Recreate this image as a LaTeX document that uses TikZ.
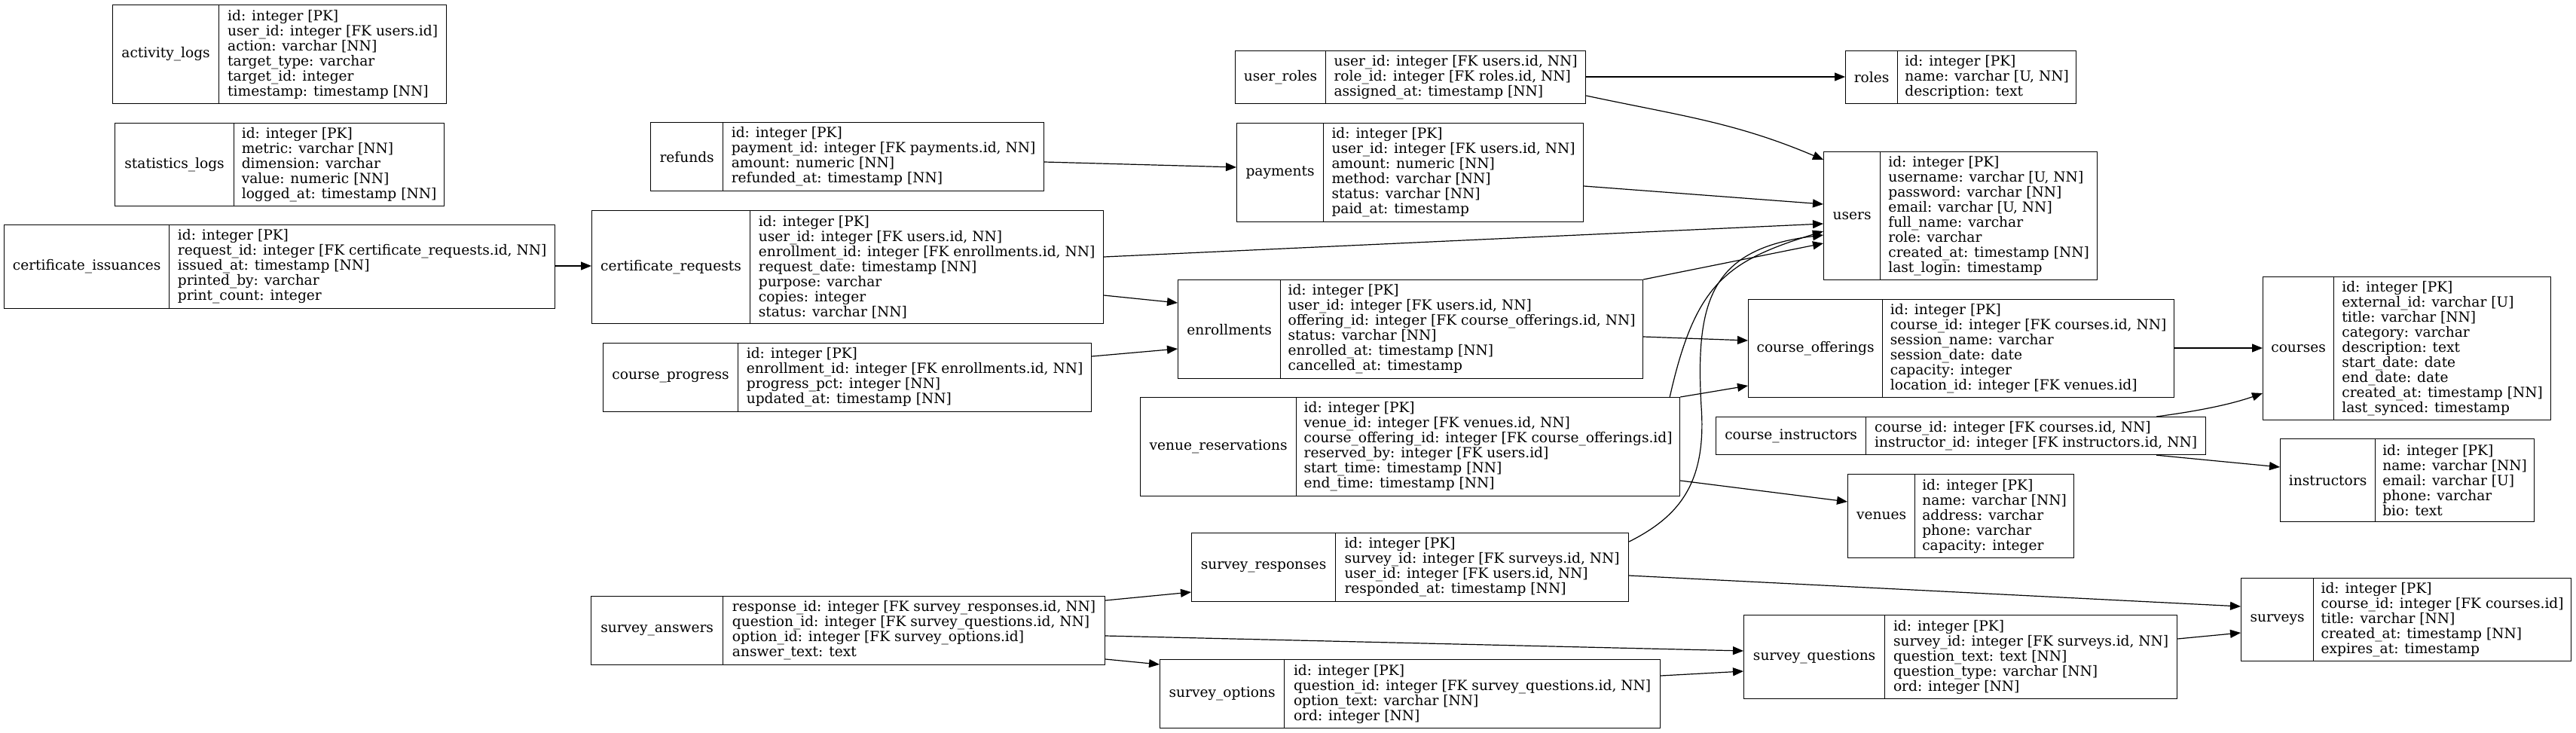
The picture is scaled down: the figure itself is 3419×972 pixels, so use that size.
\documentclass[tikz,border=0pt]{standalone}
\usepackage{fontspec}
\setmainfont{DejaVu Serif}
\usetikzlibrary{arrows.meta}

\begin{document}
\begin{tikzpicture}[x=1pt,y=-1pt,
	every node/.style={font=\fontsize{18.6}{20}\selectfont},
	tname/.style={draw, line width=1.2pt, anchor=north west, inner sep=0pt},
	tcols/.style={draw, line width=1.2pt, anchor=north west, inner sep=0pt, align=left},
	fk/.style={line width=1.2pt, -{Triangle[length=14pt,width=11pt]}}]
	\useasboundingbox[fill=white] (0,0) rectangle (3419,972);
	% tables, left column
	\node[tname, minimum width=141pt, minimum height=131pt] (activity_logs) at (149,6) {activity\_logs};
	\node[tcols, minimum width=302pt, minimum height=131pt] (activity_logs_f) at (290,6) {id: integer [PK]\\user\_id: integer [FK users.id]\\action: varchar [NN]\\target\_type: varchar\\target\_id: integer\\timestamp: timestamp [NN]};
	\node[tname, minimum width=158pt, minimum height=110pt] (statistics_logs) at (152,163) {statistics\_logs};
	\node[tcols, minimum width=279pt, minimum height=110pt] (statistics_logs_f) at (310,163) {id: integer [PK]\\metric: varchar [NN]\\dimension: varchar\\value: numeric [NN]\\logged\_at: timestamp [NN]};
	\node[tname, minimum width=219pt, minimum height=111pt] (certificate_issuances) at (5,298) {certificate\_issuances};
	\node[tcols, minimum width=512pt, minimum height=111pt] (certificate_issuances_f) at (224,298) {id: integer [PK]\\request\_id: integer [FK certificate\_requests.id, NN]\\issued\_at: timestamp [NN]\\printed\_by: varchar\\print\_count: integer};
	% second column
	\node[tname, minimum width=96pt, minimum height=91pt] (refunds) at (863,162) {refunds};
	\node[tcols, minimum width=426pt, minimum height=91pt] (refunds_f) at (959,162) {id: integer [PK]\\payment\_id: integer [FK payments.id, NN]\\amount: numeric [NN]\\refunded\_at: timestamp [NN]};
	\node[tname, minimum width=210pt, minimum height=150pt] (certificate_requests) at (785,279) {certificate\_requests};
	\node[tcols, minimum width=469pt, minimum height=150pt] (certificate_requests_f) at (995,279) {id: integer [PK]\\user\_id: integer [FK users.id, NN]\\enrollment\_id: integer [FK enrollments.id, NN]\\request\_date: timestamp [NN]\\purpose: varchar\\copies: integer\\status: varchar [NN]};
	\node[tname, minimum width=179pt, minimum height=91pt] (course_progress) at (800,455) {course\_progress};
	\node[tcols, minimum width=469pt, minimum height=91pt] (course_progress_f) at (979,455) {id: integer [PK]\\enrollment\_id: integer [FK enrollments.id, NN]\\progress\_pct: integer [NN]\\updated\_at: timestamp [NN]};
	\node[tname, minimum width=175pt, minimum height=91pt] (survey_answers) at (784,791) {survey\_answers};
	\node[tcols, minimum width=507pt, minimum height=91pt] (survey_answers_f) at (959,791) {response\_id: integer [FK survey\_responses.id, NN]\\question\_id: integer [FK survey\_questions.id, NN]\\option\_id: integer [FK survey\_options.id]\\answer\_text: text};
	% third column
	\node[tname, minimum width=120pt, minimum height=70pt] (user_roles) at (1639,67) {user\_roles};
	\node[tcols, minimum width=345pt, minimum height=70pt] (user_roles_f) at (1759,67) {user\_id: integer [FK users.id, NN]\\role\_id: integer [FK roles.id, NN]\\assigned\_at: timestamp [NN]};
	\node[tname, minimum width=115pt, minimum height=131pt] (payments) at (1641,163) {payments};
	\node[tcols, minimum width=345pt, minimum height=131pt] (payments_f) at (1756,163) {id: integer [PK]\\user\_id: integer [FK users.id, NN]\\amount: numeric [NN]\\method: varchar [NN]\\status: varchar [NN]\\paid\_at: timestamp};
	\node[tname, minimum width=136pt, minimum height=131pt] (enrollments) at (1563,371) {enrollments};
	\node[tcols, minimum width=481pt, minimum height=131pt] (enrollments_f) at (1699,371) {id: integer [PK]\\user\_id: integer [FK users.id, NN]\\offering\_id: integer [FK course\_offerings.id, NN]\\status: varchar [NN]\\enrolled\_at: timestamp [NN]\\cancelled\_at: timestamp};
	\node[tname, minimum width=207pt, minimum height=131pt] (venue_reservations) at (1513,527) {venue\_reservations};
	\node[tcols, minimum width=509pt, minimum height=131pt] (venue_reservations_f) at (1720,527) {id: integer [PK]\\venue\_id: integer [FK venues.id, NN]\\course\_offering\_id: integer [FK course\_offerings.id]\\reserved\_by: integer [FK users.id]\\start\_time: timestamp [NN]\\end\_time: timestamp [NN]};
	\node[tname, minimum width=191pt, minimum height=91pt] (survey_responses) at (1581,707) {survey\_responses};
	\node[tcols, minimum width=389pt, minimum height=91pt] (survey_responses_f) at (1772,707) {id: integer [PK]\\survey\_id: integer [FK surveys.id, NN]\\user\_id: integer [FK users.id, NN]\\responded\_at: timestamp [NN]};
	\node[tname, minimum width=165pt, minimum height=91pt] (survey_options) at (1539,875) {survey\_options};
	\node[tcols, minimum width=499pt, minimum height=91pt] (survey_options_f) at (1704,875) {id: integer [PK]\\question\_id: integer [FK survey\_questions.id, NN]\\option\_text: varchar [NN]\\ord: integer [NN]};
	% fourth column
	\node[tname, minimum width=69pt, minimum height=70pt] (roles) at (2449,67) {roles};
	\node[tcols, minimum width=237pt, minimum height=70pt] (roles_f) at (2518,67) {id: integer [PK]\\name: varchar [U, NN]\\description: text};
	\node[tname, minimum width=75pt, minimum height=170pt] (users) at (2420,201) {users};
	\node[tcols, minimum width=288pt, minimum height=170pt] (users_f) at (2495,201) {id: integer [PK]\\username: varchar [U, NN]\\password: varchar [NN]\\email: varchar [U, NN]\\full\_name: varchar\\role: varchar\\created\_at: timestamp [NN]\\last\_login: timestamp};
	\node[tname, minimum width=178pt, minimum height=130pt] (course_offerings) at (2320,397) {course\_offerings};
	\node[tcols, minimum width=387pt, minimum height=130pt] (course_offerings_f) at (2498,397) {id: integer [PK]\\course\_id: integer [FK courses.id, NN]\\session\_name: varchar\\session\_date: date\\capacity: integer\\location\_id: integer [FK venues.id]};
	\node[tname, minimum width=199pt, minimum height=50pt] (course_instructors) at (2277,553) {course\_instructors};
	\node[tcols, minimum width=451pt, minimum height=50pt] (course_instructors_f) at (2476,553) {course\_id: integer [FK courses.id, NN]\\instructor\_id: integer [FK instructors.id, NN]};
	\node[tname, minimum width=89pt, minimum height=111pt] (venues) at (2452,629) {venues};
	\node[tcols, minimum width=211pt, minimum height=111pt] (venues_f) at (2541,629) {id: integer [PK]\\name: varchar [NN]\\address: varchar\\phone: varchar\\capacity: integer};
	\node[tname, minimum width=187pt, minimum height=111pt] (survey_questions) at (2314,816) {survey\_questions};
	\node[tcols, minimum width=388pt, minimum height=111pt] (survey_questions_f) at (2501,816) {id: integer [PK]\\survey\_id: integer [FK surveys.id, NN]\\question\_text: text [NN]\\question\_type: varchar [NN]\\ord: integer [NN]};
	% right column
	\node[tname, minimum width=94pt, minimum height=190pt] (courses) at (3003,367) {courses};
	\node[tcols, minimum width=288pt, minimum height=190pt] (courses_f) at (3097,367) {id: integer [PK]\\external\_id: varchar [U]\\title: varchar [NN]\\category: varchar\\description: text\\start\_date: date\\end\_date: date\\created\_at: timestamp [NN]\\last\_synced: timestamp};
	\node[tname, minimum width=126pt, minimum height=110pt] (instructors) at (3026,582) {instructors};
	\node[tcols, minimum width=211pt, minimum height=110pt] (instructors_f) at (3152,582) {id: integer [PK]\\name: varchar [NN]\\email: varchar [U]\\phone: varchar\\bio: text};
	\node[tname, minimum width=96pt, minimum height=110pt] (surveys) at (2974,767) {surveys};
	\node[tcols, minimum width=342pt, minimum height=110pt] (surveys_f) at (3070,767) {id: integer [PK]\\course\_id: integer [FK courses.id]\\title: varchar [NN]\\created\_at: timestamp [NN]\\expires\_at: timestamp};
	% foreign keys
	\draw[fk] ([yshift=-55pt]certificate_issuances_f.north east) -- ([yshift=-55pt]certificate_requests.west |- certificate_issuances_f.north east);
	\draw[fk] ([yshift=-53pt]refunds_f.north east) -- ([yshift=-59pt]payments.north west);
	\draw[fk] ([yshift=-35pt]user_roles_f.north east) -- ([yshift=-35pt]roles.north west);
	\draw[fk] ([yshift=-60pt]user_roles_f.north east) to[out=-12,in=157] ([yshift=-11pt]users.north west);
	\draw[fk] ([yshift=-84pt]payments_f.north east) -- ([yshift=-70pt]users.north west);
	\draw[fk] ([yshift=-62pt]certificate_requests_f.north east) -- ([yshift=-96pt]users.north west);
	\draw[fk] ([yshift=-113pt]certificate_requests_f.north east) -- ([yshift=-31pt]enrollments.north west);
	\draw[fk] ([yshift=-18pt]course_progress_f.north east) -- ([yshift=-92pt]enrollments.north west);
	\draw[fk] (enrollments_f.north east) -- ([yshift=-122pt]users.north west);
	\draw[fk] ([yshift=-76pt]enrollments_f.north east) -- ([yshift=-55pt]course_offerings.north west);
	\draw[fk] (venue_reservations_f.north east) -- ([yshift=-115pt]course_offerings.north west);
	\draw[fk] ([xshift=-14pt]venue_reservations_f.north east) .. controls (2250,377) and (2290,347) .. ([yshift=-106pt]users.north west);
	\draw[fk] ([yshift=-111pt]venue_reservations_f.north east) -- ([yshift=-37pt]venues.north west);
	\draw[fk] ([yshift=-12pt]survey_responses_f.north east) .. controls (2230,685) and (2265,640) .. (2258,540) .. controls (2250,400) and (2270,330) .. ([yshift=-111pt]users.north west);
	\draw[fk] ([yshift=-65pt]course_offerings_f.north east) -- ([yshift=-95pt]courses.north west);
	\draw[fk] ([xshift=-66pt]course_instructors_f.north east) .. controls +(60,-8) and +(-40,14) .. ([yshift=-155pt]courses.north west);
	\draw[fk] ([xshift=-66pt]course_instructors_f.south east) -- ([yshift=-38pt]instructors.north west);
	\draw[fk] ([yshift=-57pt]survey_responses_f.north east) -- ([yshift=-38pt]surveys.north west);
	\draw[fk] ([yshift=-6pt]survey_answers_f.north east) -- ([yshift=-79pt]survey_responses.north west);
	\draw[fk] ([yshift=-53pt]survey_answers_f.north east) -- ([yshift=-48pt]survey_questions.north west);
	\draw[fk] ([yshift=-84pt]survey_answers_f.north east) -- ([yshift=-7pt]survey_options.north west);
	\draw[fk] ([yshift=-22pt]survey_options_f.north east) -- ([yshift=-75pt]survey_questions.north west);
	\draw[fk] ([yshift=-32pt]survey_questions_f.north east) -- ([yshift=-73pt]surveys.north west);
\end{tikzpicture}
\end{document}
